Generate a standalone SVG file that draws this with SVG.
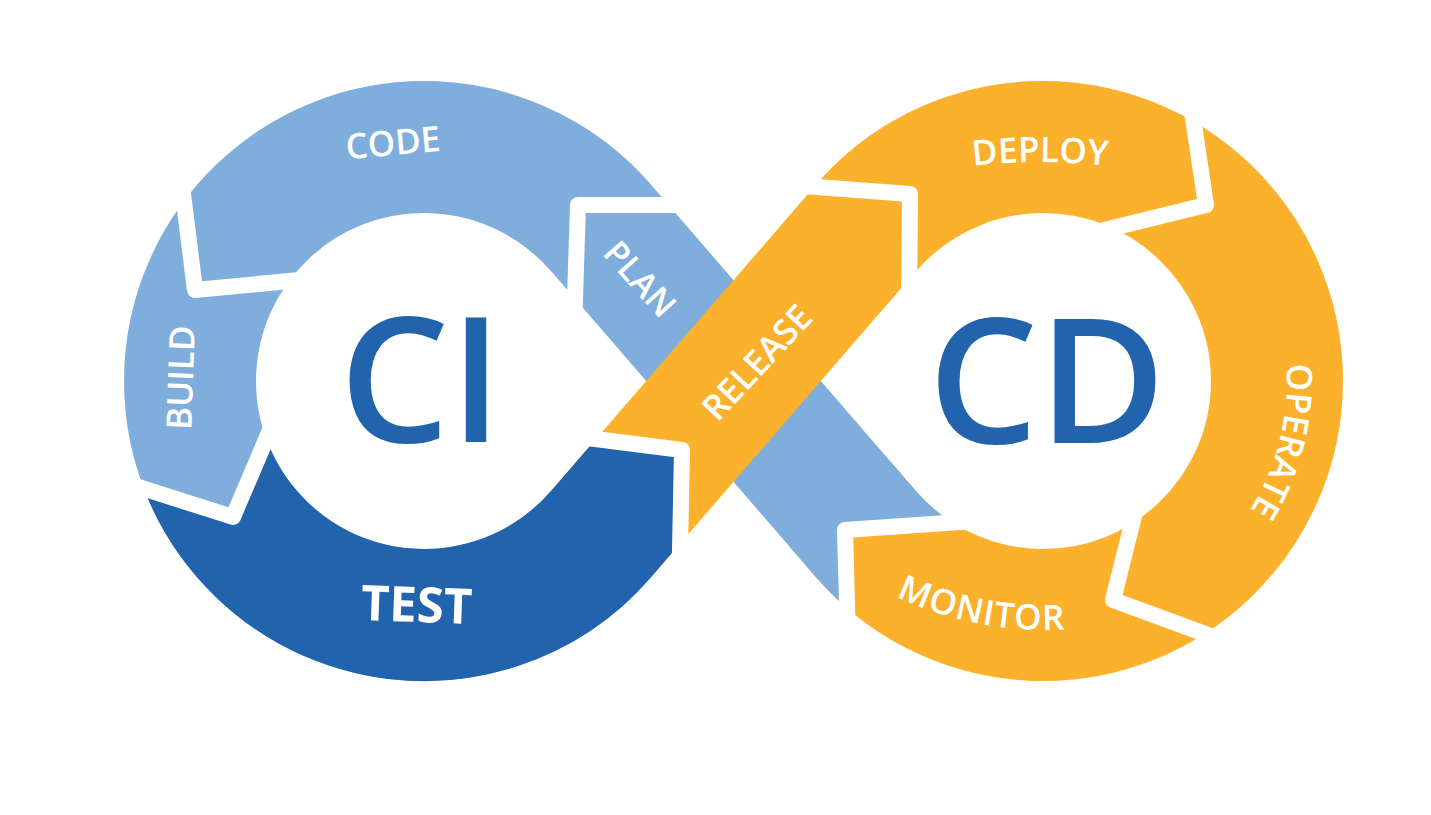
<svg xmlns="http://www.w3.org/2000/svg" width="1431" height="815" viewBox="0 0 1431 815">
<style>
.band{fill:none;stroke-width:132;stroke-linecap:butt}
.lb{stroke:#80AEDC}.db{stroke:#2263AE}.or{stroke:#FBB12C}
.gap{fill:none;stroke:#FFFFFF;stroke-width:16;stroke-linejoin:round;stroke-linecap:butt}
.lbl{font-family:"Open Sans","Liberation Sans",sans-serif;fill:#FFFFFF;font-size:35px;font-weight:600}
.big{font-family:"Open Sans","Liberation Sans",sans-serif;fill:#2263AE;font-size:174px;font-weight:600;text-anchor:middle}
</style>
<defs>
<clipPath id="planClip"><polygon points="0,0 1431,0 1431,515 975,521 845,530 848,815 0,815"/></clipPath>
<clipPath id="testClip"><polygon points="290,385 233,517 90,471 90,760 679,760 682,450 540,432"/></clipPath>
<path id="deployPath" d="M 895.6 181 A 558 558 0 0 1 1184.4 181"/>
<path id="operatePath" d="M 1229.9 224.2 A 244 244 0 0 1 1134.4 607.2"/>
<path id="monitorPath" d="M 816.7 544.6 A 348 348 0 0 0 1158.3 611.0"/>
</defs>
<rect width="1431" height="815" fill="#FFFFFF"/>
<g id="ribbon">
<path id="cd-ring" class="band or" d="M 866.1 227.8 A 234 234 0 1 1 866.1 534.2 L 839.9 504.0"/>
<path id="ci-ring" class="band lb" d="M 600.9 227.8 A 234 234 0 1 0 600.9 534.2"/>
<path id="plan-band" class="band lb" clip-path="url(#planClip)" d="M 908.8 572.7 A 234 234 0 0 1 866.1 534.2 L 600.9 227.8 A 234 234 0 0 0 541 178.4"/>
<path id="release-band" class="band or" d="M 600.9 534.2 L 866.1 227.8 A 234 234 0 0 1 963.0 161.1"/>
<path id="test-seg" class="band db" clip-path="url(#testClip)" d="M 198.0 441.6 A 234 234 0 0 0 600.9 534.2 L 692.5 428.3"/>
</g>
<g id="connectors">
<polyline class="gap" points="690,205 578,205 574,330"/>
<polyline class="gap" points="180,170 195,290 310,279"/>
<polyline class="gap" points="120,481 233,517 285,395"/>
<polyline class="gap" points="540,432 682,450 679,600"/>
<polyline class="gap" points="790,185 910,194 909,310"/>
<polyline class="gap" points="1188,85 1206,205 1100,231"/>
<polyline class="gap" points="1138,500 1113,600 1230,643"/>
<polyline class="gap" points="975,521 845,530 848,640"/>
</g>
<g id="ci"><text class="big" x="421" y="442">CI</text></g>
<g id="cd"><text class="big" x="1047" y="443">CD</text></g>
<g id="code"><text class="lbl" x="394" y="155" text-anchor="middle" transform="rotate(-5 394 155)">CODE</text></g>
<g id="build"><text class="lbl" x="193" y="378" text-anchor="middle" transform="rotate(-88 193 378)">BUILD</text></g>
<g id="test"><text class="lbl" x="416" y="622" text-anchor="middle" style="font-size:49px;font-weight:700" transform="rotate(2 416 622)">TEST</text></g>
<g id="plan"><text class="lbl" x="631" y="287" text-anchor="middle" style="font-size:34px" transform="rotate(48 631 287)">PLAN</text></g>
<g id="release"><text class="lbl" x="766" y="371" text-anchor="middle" transform="rotate(-47 766 371)">RELEASE</text></g>
<g id="deploy"><text class="lbl"><textPath href="#deployPath" startOffset="50%" text-anchor="middle">DEPLOY</textPath></text></g>
<g id="operate"><text class="lbl"><textPath href="#operatePath" startOffset="50%" text-anchor="middle">OPERATE</textPath></text></g>
<g id="monitor"><text class="lbl" letter-spacing="1"><textPath href="#monitorPath" startOffset="50%" text-anchor="middle">MONITOR</textPath></text></g>
</svg>
